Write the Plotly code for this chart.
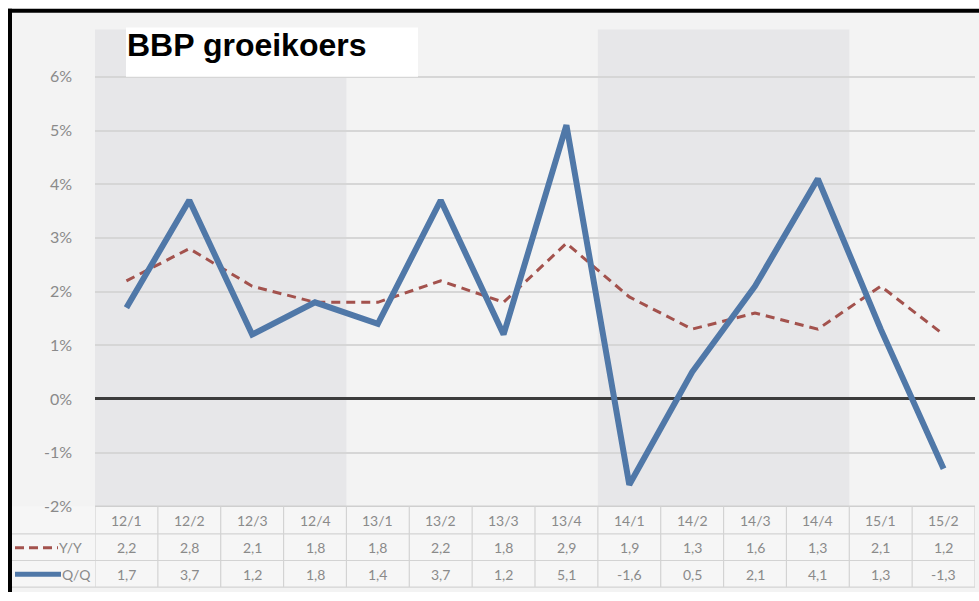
import plotly.graph_objects as go

# ---- data ----
quarters = ["12/1", "12/2", "12/3", "12/4", "13/1", "13/2", "13/3", "13/4",
            "14/1", "14/2", "14/3", "14/4", "15/1", "15/2"]
yy_values = [2.2, 2.8, 2.1, 1.8, 1.8, 2.2, 1.8, 2.9, 1.9, 1.3, 1.6, 1.3, 2.1, 1.2]
qq_values = [1.7, 3.7, 1.2, 1.8, 1.4, 3.7, 1.2, 5.1, -1.6, 0.5, 2.1, 4.1, 1.3, -1.3]
y_ticks = [-2, -1, 0, 1, 2, 3, 4, 5, 6]
shaded_years = [(0, 3), (8, 11)]  # index ranges of shaded year bands (2012, 2014)
title_text = "BBP groeikoers"

W, H = 979, 601
def xp(px):
    return px / W
def yp(py):
    return 1 - py / H

QQ_COLOR = "#5078a8"
YY_COLOR = "#a3524d"
TXT = "#8a8a8a"
GRID = "#d6d6d6"
TFONT = "Lato"

ybot_px, ytop_px = 514, 30
unit_px = (514 - 78) / 8.0
y_top_val = 6 + (78 - ytop_px) / unit_px

fig = go.Figure()
fig.add_trace(go.Scatter(x=quarters, y=yy_values, mode="lines", name="Y/Y",
                         line=dict(color=YY_COLOR, width=3, dash="9px,6px")))
fig.add_trace(go.Scatter(x=quarters, y=qq_values, mode="lines", name="Q/Q",
                         line=dict(color=QQ_COLOR, width=6)))

shapes = []
# background of the framed chart
shapes.append(dict(type="rect", xref="paper", yref="paper", x0=xp(12), x1=1, y0=0, y1=yp(13),
                   fillcolor="#f3f3f3", line=dict(width=0), layer="below"))
# year bands
for a, b in shaded_years:
    shapes.append(dict(type="rect", xref="x", yref="paper", x0=a - 0.5, x1=b + 0.5,
                       y0=yp(ybot_px), y1=yp(ytop_px), fillcolor="#e7e7e9",
                       line=dict(width=0), layer="below"))
# table cells background
shapes.append(dict(type="rect", xref="paper", yref="paper", x0=xp(12), x1=xp(975),
                   y0=yp(596), y1=yp(514), fillcolor="#f6f6f6", line=dict(width=0), layer="below"))
# table horizontal lines
shapes.append(dict(type="line", xref="paper", yref="paper", x0=xp(95), x1=xp(975),
                   y0=yp(514), y1=yp(514), line=dict(color="#cfcfcf", width=1.5)))
for py in [542, 569, 596]:
    shapes.append(dict(type="line", xref="paper", yref="paper", x0=xp(12), x1=xp(975),
                       y0=yp(py), y1=yp(py), line=dict(color="#d3d3d3", width=1.2)))
# table vertical lines
n = len(quarters)
for i in range(n + 1):
    shapes.append(dict(type="line", xref="x", yref="paper", x0=i - 0.5, x1=i - 0.5,
                       y0=yp(596), y1=yp(514), line=dict(color="#d3d3d3", width=1.2)))
# legend keys in table
shapes.append(dict(type="line", xref="paper", yref="paper", x0=xp(15), x1=xp(58),
                   y0=yp(556), y1=yp(556), line=dict(color=YY_COLOR, width=3, dash="9px,5px")))
shapes.append(dict(type="line", xref="paper", yref="paper", x0=xp(15), x1=xp(61),
                   y0=yp(583), y1=yp(583), line=dict(color=QQ_COLOR, width=5)))
# title box
shapes.append(dict(type="rect", xref="paper", yref="paper", x0=xp(126), x1=xp(418),
                   y0=yp(78), y1=yp(28), fillcolor="white", line=dict(width=0), layer="above"))
# black frame (left and top)
shapes.append(dict(type="line", xref="paper", yref="paper", x0=xp(10), x1=xp(10),
                   y0=0, y1=yp(9), line=dict(color="black", width=4), layer="above"))
shapes.append(dict(type="line", xref="paper", yref="paper", x0=xp(8), x1=1,
                   y0=yp(11), y1=yp(11), line=dict(color="black", width=4), layer="above"))

def fmt(v):
    return ("%.1f" % v).replace(".", ",")

ann = []
for q, a, b in zip(quarters, yy_values, qq_values):
    ann.append(dict(x=q, xref="x", y=yp(528), yref="paper", text=q, showarrow=False,
                    yanchor="middle", font=dict(family=TFONT, size=14, color=TXT)))
    ann.append(dict(x=q, xref="x", y=yp(556), yref="paper", text=fmt(a), showarrow=False,
                    yanchor="middle", font=dict(family=TFONT, size=14, color=TXT)))
    ann.append(dict(x=q, xref="x", y=yp(583), yref="paper", text=fmt(b), showarrow=False,
                    yanchor="middle", font=dict(family=TFONT, size=14, color=TXT)))
ann.append(dict(x=xp(57), xref="paper", y=yp(556), yref="paper", text="Y/Y", showarrow=False,
                xanchor="left", yanchor="middle", font=dict(family=TFONT, size=14, color=TXT)))
ann.append(dict(x=xp(60), xref="paper", y=yp(583), yref="paper", text="Q/Q", showarrow=False,
                xanchor="left", yanchor="middle", font=dict(family=TFONT, size=14, color=TXT)))
ann.append(dict(x=xp(125), xref="paper", y=yp(46), yref="paper", text="<b>%s</b>" % title_text,
                showarrow=False, xanchor="left", yanchor="middle",
                font=dict(family="Liberation Sans, Arial", size=32, color="black")))

fig.update_layout(
    width=W, height=H,
    margin=dict(l=0, r=0, t=0, b=0),
    paper_bgcolor="white",
    plot_bgcolor="rgba(0,0,0,0)",
    showlegend=False,
    shapes=shapes,
    annotations=ann,
    xaxis=dict(type="category", domain=[xp(95), xp(975)], range=[-0.5, n - 0.5],
               showticklabels=False, showgrid=False, zeroline=False, showline=False, ticks=""),
    yaxis=dict(domain=[yp(ybot_px), yp(ytop_px)], range=[-2, y_top_val],
               tickvals=y_ticks, ticktext=["%d%%" % v for v in y_ticks],
               tickfont=dict(family=TFONT, size=16, color=TXT),
               ticks="", ticklabelstandoff=22,
               showgrid=True, gridcolor=GRID, gridwidth=2,
               zeroline=True, zerolinecolor="#3c3c3c", zerolinewidth=3, showline=False),
)

fig.write_html("out.html", config={"displayModeBar": False},
               post_script="document.body.style.margin='0px';document.body.style.overflow='hidden';")
